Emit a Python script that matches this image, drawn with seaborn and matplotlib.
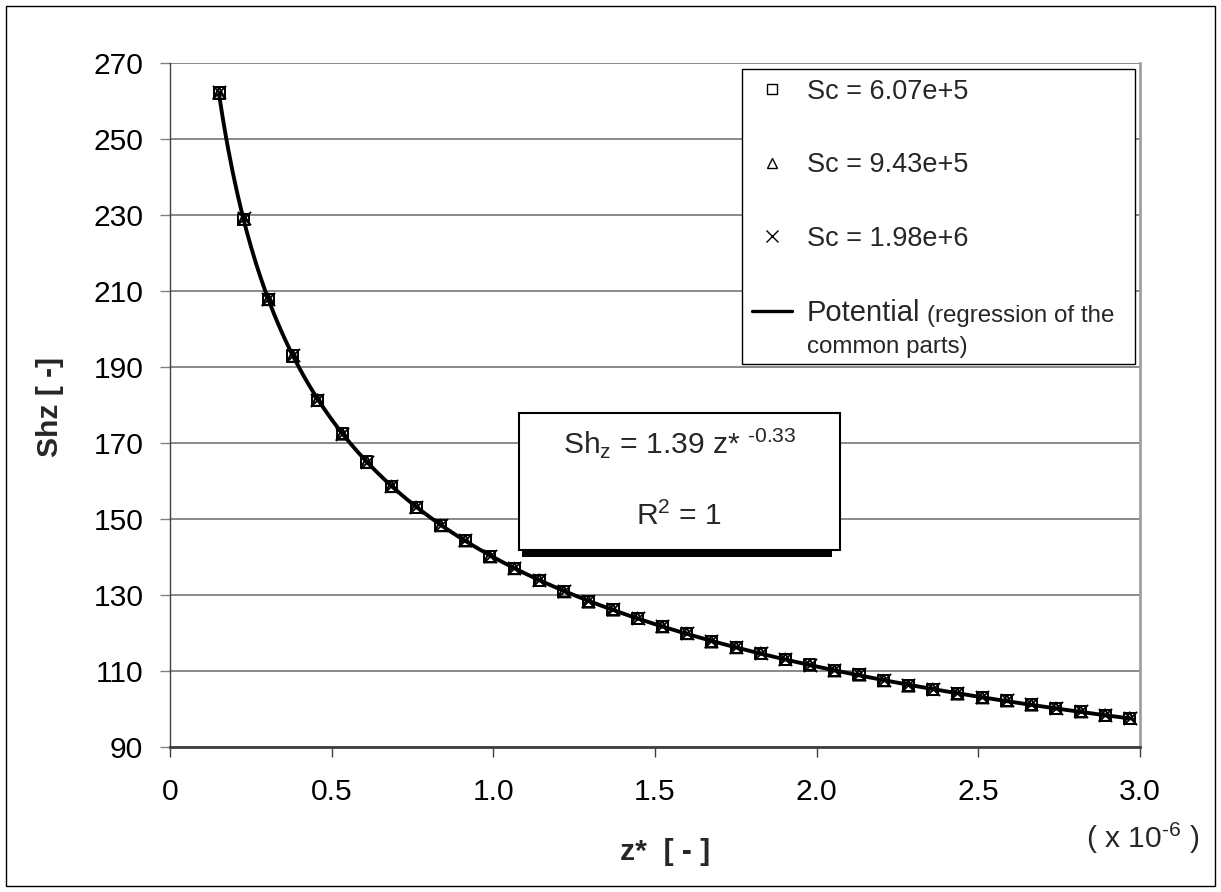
import numpy as np
import pandas as pd
import matplotlib
matplotlib.use("Agg")
import matplotlib.pyplot as plt
import seaborn as sns
from matplotlib.lines import Line2D
from matplotlib.patches import Rectangle

# ---------------- data (z* in units of 1e-6) ----------------
z_star = [0.152, 0.228, 0.304, 0.380, 0.456, 0.533, 0.609, 0.685, 0.761, 0.837,
          0.913, 0.989, 1.065, 1.142, 1.218, 1.294, 1.370, 1.446, 1.522, 1.598,
          1.674, 1.751, 1.827, 1.903, 1.979, 2.055, 2.131, 2.207, 2.283, 2.359,
          2.435, 2.512, 2.588, 2.664, 2.740, 2.816, 2.892, 2.968]
sh_sc_607e5 = [262.1, 228.9, 207.8, 192.9, 181.3, 172.4, 165.0, 158.6, 153.1, 148.3,
               144.3, 140.1, 137.0, 133.9, 130.9, 128.2, 126.1, 123.9, 121.7, 119.9,
               117.7, 116.2, 114.7, 113.1, 111.6, 110.1, 109.0, 107.5, 106.1, 105.2,
               104.0, 103.0, 102.2, 101.1, 100.2, 99.3, 98.4, 97.6]
sh_sc_943e5 = [262.1, 228.9, 207.8, 192.9, 181.3, 172.4, 165.0, 158.6, 153.1, 148.3,
               144.3, 140.1, 137.0, 133.9, 130.9, 128.2, 126.1, 123.9, 121.7, 119.9,
               117.7, 116.2, 114.7, 113.1, 111.6, 110.1, 109.0, 107.5, 106.1, 105.2,
               104.0, 103.0, 102.2, 101.1, 100.2, 99.3, 98.4, 97.6]
sh_sc_198e6 = [262.3, 229.1, 208.0, 193.1, 181.4, 172.5, 165.1, 158.7, 153.2, 148.4,
               144.4, 140.2, 137.1, 134.0, 131.0, 128.3, 126.2, 124.0, 121.8, 120.0,
               117.8, 116.3, 114.8, 113.2, 111.7, 110.2, 109.1, 107.6, 106.2, 105.3,
               104.1, 103.1, 102.3, 101.2, 100.3, 99.4, 98.5, 97.7]
series_labels = ["Sc = 6.07e+5", "Sc = 9.43e+5", "Sc = 1.98e+6"]
fit_label_main = "Potential"
fit_label_note = ["(regression of the", "common parts)"]
x_ticks = [0, 0.5, 1.0, 1.5, 2.0, 2.5, 3.0]
x_tick_labels = ["0", "0.5", "1.0", "1.5", "2.0", "2.5", "3.0"]
y_ticks = [90, 110, 130, 150, 170, 190, 210, 230, 250, 270]
eq_line1 = r"Sh$_{\mathregular{z}}$ = 1.39 z* $^{\text{-0.33}}$"
eq_line2 = r"R$^{\mathregular{2}}$ = 1"
x_scale_note = r"( x 10$^{\text{-6}}$ )"

# ---------------- style ----------------
sns.set_style("white")
plt.rcParams["font.family"] = ["Liberation Sans", "DejaVu Sans"]
plt.rcParams["mathtext.fontset"] = "custom"
plt.rcParams["mathtext.rm"] = "Liberation Sans"
plt.rcParams["mathtext.it"] = "Liberation Sans:italic"
plt.rcParams["mathtext.bf"] = "Liberation Sans:bold"

W, H = 1221, 892
fig = plt.figure(figsize=(W / 100, H / 100), dpi=100)
ax = fig.add_axes([170 / W, 145 / H, 970 / W, 684 / H])
ax.set_axisbelow(True)

# ---------------- regression line (power law fitted to the data) ----------------
z_all = np.array(z_star * 3)
sh_all = np.array(sh_sc_607e5 + sh_sc_943e5 + sh_sc_198e6)
b, a = np.polyfit(np.log(z_all), np.log(sh_all), 1)
z_fit = np.linspace(min(z_star), max(z_star), 400)
sh_fit = np.exp(a) * z_fit ** b
sns.lineplot(x=z_fit, y=sh_fit, color="black", lw=2.8, ax=ax, zorder=2)

# ---------------- markers ----------------
sns.scatterplot(x=z_star, y=sh_sc_607e5, marker="s", s=64, color="black",
                linewidth=1.4, ax=ax, zorder=3)
ax.collections[-1].set_facecolor("none")
ax.collections[-1].set_edgecolor("black")
sns.scatterplot(x=z_star, y=sh_sc_943e5, marker="^", s=70, color="black",
                linewidth=1.4, ax=ax, zorder=3)
ax.collections[-1].set_facecolor("none")
ax.collections[-1].set_edgecolor("black")
sns.scatterplot(x=z_star, y=sh_sc_198e6, marker="x", s=90, color="black",
                linewidth=1.3, ax=ax, zorder=3)

# ---------------- axes ----------------
ax.set_xlim(0, 3.0)
ax.set_ylim(90, 270)
ax.set_xticks(x_ticks)
ax.set_xticklabels(x_tick_labels)
ax.set_yticks(y_ticks)
ax.set_yticklabels([str(v) for v in y_ticks])
ax.tick_params(axis="x", bottom=True, direction="out", length=7.2, width=1,
               color="#404040", pad=15, labelsize=21.6, labelcolor="black")
ax.tick_params(axis="y", left=True, direction="out", length=7.2, width=1,
               color="#808080", pad=12, labelsize=21.6, labelcolor="black")
ax.yaxis.grid(True, color="#808080", lw=1.3)
ax.xaxis.grid(False)

ax.spines["top"].set_visible(False)
ax.spines["left"].set_color("#404040")
ax.spines["left"].set_linewidth(1.0)
ax.spines["bottom"].set_color("#404040")
ax.spines["bottom"].set_linewidth(2.0)
ax.spines["right"].set_visible(True)
ax.spines["right"].set_color("#a0a0a0")
ax.spines["right"].set_linewidth(2.0)

ax.set_xlabel("z*  [ - ]", fontsize=21.6, fontweight="bold")
ax.set_ylabel("Shz [ -]", fontsize=21.6, fontweight="bold")
ax.xaxis.set_label_coords(0.510, -0.1535)
ax.xaxis.label.set_va("center")
ax.yaxis.set_label_coords(-0.1237, 0.497)
ax.yaxis.label.set_va("center")

ax.text(1.003, -0.133, x_scale_note, ha="center", va="center", fontsize=21.6,
        transform=ax.transAxes, clip_on=False)

# ---------------- legend ----------------
ax.add_patch(Rectangle((0.5897, 0.560), 0.405, 0.431, transform=ax.transAxes,
                       fc="white", ec="black", lw=1.0, zorder=5))
handles = [
    Line2D([], [], ls="none", marker="s", ms=7.5, mfc="none", mec="black", mew=1.0),
    Line2D([], [], ls="none", marker="^", ms=7.5, mfc="none", mec="black", mew=1.0),
    Line2D([], [], ls="none", marker="x", ms=8.5, mec="black", mew=1.0),
    Line2D([], [], color="black", lw=2.4),
]
leg = ax.legend(handles, series_labels + [fit_label_main], loc="upper left",
                bbox_to_anchor=(0.6, 0.977), frameon=False, fontsize=19.5,
                labelspacing=1.75, handlelength=1.48, handletextpad=0.55,
                borderpad=0, borderaxespad=0, numpoints=1)
leg.set_zorder(6)
pot = leg.get_texts()[3]
pot.set_fontsize(21)
ax.annotate(fit_label_note[0], xy=(1, 0), xycoords=pot, xytext=(5, 0),
            textcoords="offset points", ha="left", va="bottom", fontsize=17.4,
            zorder=7, annotation_clip=False)
ax.annotate(fit_label_note[1], xy=(0, 0), xycoords=pot, xytext=(0, -22.5),
            textcoords="offset points", ha="left", va="bottom", fontsize=17.4,
            zorder=7, annotation_clip=False)

# ---------------- equation box ----------------
ax.add_patch(Rectangle((0.3629, 0.2778), 0.3196, 0.2005, transform=ax.transAxes,
                       fc="black", ec="none", zorder=5))
ax.add_patch(Rectangle((0.3598, 0.288), 0.3309, 0.2003, transform=ax.transAxes,
                       fc="white", ec="black", lw=1.5, zorder=5.1))
ax.text(0.5258, 0.4298, eq_line1, ha="center", va="baseline", fontsize=21.6,
        transform=ax.transAxes, zorder=6)
ax.text(0.5248, 0.3246, eq_line2, ha="center", va="baseline", fontsize=21.6,
        transform=ax.transAxes, zorder=6)

# ---------------- outer border ----------------
fig.add_artist(Rectangle((6 / W, 6 / H), 1209 / W, 880 / H, transform=fig.transFigure,
                         fill=False, ec="black", lw=1.0))

fig.savefig("out.png", dpi=100)
